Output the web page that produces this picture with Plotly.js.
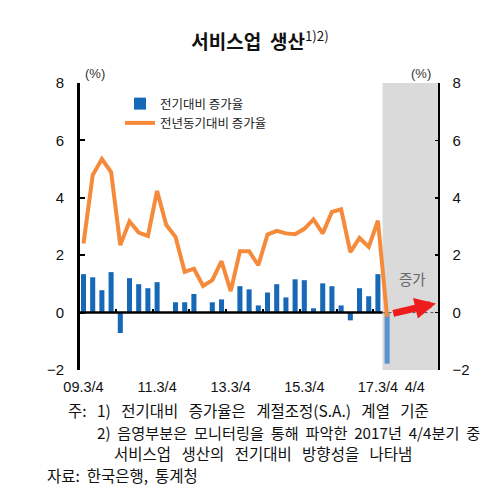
<!DOCTYPE html>
<html>
<head>
<meta charset="utf-8">
<script src="https://cdn.plot.ly/plotly-3.0.1.min.js"></script>
<style>
html,body{margin:0;padding:0;background:#fff;}
#chart{width:496px;height:492px;}
</style>
</head>
<body>
<div id="chart"></div>
<script>
// Quarters from 2009 Q3 to 2017 Q4 (index 0..33)
const quarters = ["09.3/4","09.4/4","10.1/4","10.2/4","10.3/4","10.4/4","11.1/4","11.2/4","11.3/4","11.4/4",
  "12.1/4","12.2/4","12.3/4","12.4/4","13.1/4","13.2/4","13.3/4","13.4/4","14.1/4","14.2/4",
  "14.3/4","14.4/4","15.1/4","15.2/4","15.3/4","15.4/4","16.1/4","16.2/4","16.3/4","16.4/4",
  "17.1/4","17.2/4","17.3/4","17.4/4"];
// 전기대비 증가율 (%)
const qoq = [1.34,1.23,0.78,1.41,-0.71,1.20,0.99,0.85,1.06,0.00,
  0.36,0.36,0.65,0.00,0.36,0.46,0.00,0.92,0.81,0.25,
  0.70,0.99,0.53,1.16,1.13,0.15,1.02,0.92,0.25,-0.27,
  0.85,0.57,1.34,-1.78];
// 전년동기대비 증가율 (%)
const yoy = [2.41,4.79,5.35,4.90,2.35,3.18,2.79,2.67,4.24,3.05,
  2.64,1.42,1.53,0.93,1.13,1.79,0.75,2.14,2.14,1.65,
  2.72,2.85,2.76,2.73,2.92,3.25,2.76,3.51,3.60,2.11,
  2.60,2.29,3.20,-0.15];
const tickLabels = ["09.3/4","11.3/4","13.3/4","15.3/4","17.3/4","4/4"];
const tickPos = [0,8,16,24,32,36];
const yearTicks = [3.5,7.5,11.5,15.5,19.5,23.5,27.5,31.5];

const xIdx = quarters.map((q,i)=>i);
const barColors = qoq.map((v,i)=> i===33 ? '#5b93cc' : '#1769b8');

const KR = '"Noto Sans CJK KR", "Noto Sans", sans-serif';
const NUM = '"Liberation Sans", Arial, sans-serif';

const traces = [
  {type:'bar', x:xIdx, y:qoq, name:'전기대비 증가율', marker:{color:barColors, line:{width:0}},
   width:0.55, hoverinfo:'skip'},
  {type:'scatter', mode:'lines', x:xIdx, y:yoy, name:'전년동기대비 증가율',
   line:{color:'#f58a3b', width:4}, hoverinfo:'skip'},
  {type:'scatter', mode:'markers', x:[0], y:[0], xaxis:'x2', yaxis:'y', showlegend:false,
   marker:{opacity:0}, hoverinfo:'skip'},
  {type:'scatter', mode:'markers', x:[0], y:[0], yaxis:'y2', showlegend:false,
   marker:{opacity:0}, hoverinfo:'skip'}
];

const notes = [
  {t:['주:','1)','전기대비','증가율은','계절조정(S.A.)','계열','기준'], px:66, py:410, sp:3, fs:15.5},
  {t:['2)','음영부분은','모니터링을','통해','파악한','2017년','4/4분기','중'], px:95, py:432, sp:2, fs:15.2},
  {t:['서비스업','생산의','전기대비','방향성을','나타냄'], px:112, py:453, sp:3, fs:15.5},
  {t:['자료:','한국은행,','통계청'], px:45, py:475, sp:2, fs:15.5}
];
const L=80, R=438, T=83, B=370;
const noteAnns = notes.map(n=>({
  text:n.t.join('\u00a0'.repeat(n.sp)), xref:'paper', yref:'paper', x:(n.px-L)/(R-L), y:(B-n.py)/(B-T),
  xanchor:'left', yanchor:'middle', showarrow:false,
  font:{family:KR, size:n.fs, color:'#111'}
}));

const layout = {
  width:496, height:492,
  margin:{l:L, r:496-R, t:T, b:492-B, pad:0},
  paper_bgcolor:'#fff', plot_bgcolor:'#fff',
  showlegend:true,
  legend:{x:(120-L)/(R-L), y:(B-89)/(B-T), xanchor:'left', yanchor:'top',
    bgcolor:'rgba(0,0,0,0)', font:{family:KR, size:12.5, color:'#222'}, tracegroupgap:4},
  title:{text:'<b>서비스업\u00a0\u00a0생산</b><sup>1)2)</sup>', x:260/496, xanchor:'center', y:1-42/492, yanchor:'middle',
    xref:'container', yref:'container', font:{family:KR, size:19, color:'#111'}},
  bargap:0.45,
  xaxis:{range:[-0.38,38.53], showgrid:false, zeroline:false, showline:false,
    tickmode:'array', tickvals:tickPos, ticktext:tickLabels, ticks:'',
    tickfont:{family:NUM, size:14.5, color:'#111'}, ticklabelstandoff:6, fixedrange:true},
  xaxis2:{range:[-0.38,38.53], overlaying:'x', anchor:'free', position:0.2, side:'top',
    showgrid:false, zeroline:false, showline:false, tickmode:'array', tickvals:yearTicks,
    ticks:'outside', ticklen:4, tickwidth:2, tickcolor:'#000', showticklabels:false},
  yaxis:{range:[-2,8], dtick:2, showgrid:false, zeroline:false, showline:true, linewidth:3,
    linecolor:'#000', ticks:'inside', ticklen:5, tickwidth:2, tickcolor:'#000',
    tickfont:{family:NUM, size:15, color:'#111'}, ticklabelstandoff:10,
    tickformat:'d'},
  yaxis2:{range:[-2,8], dtick:2, overlaying:'y', side:'right', showgrid:false, zeroline:false,
    showline:true, linewidth:1.5, linecolor:'#000', ticks:'inside', ticklen:3, tickwidth:1.5,
    tickcolor:'#000', tickfont:{family:NUM, size:15, color:'#111'}, ticklabelstandoff:10},
  shapes:[
    {type:'rect', xref:'x', yref:'paper', x0:32.5, x1:38.53, y0:0, y1:1,
     fillcolor:'#dadada', line:{width:0}, layer:'below'},
    {type:'line', xref:'x', yref:'y', x0:-0.38, x1:32.5, y0:0, y1:0,
     line:{color:'#000', width:2.5}, layer:'above'},
    {type:'line', xref:'x', yref:'y', x0:32.5, x1:38.53, y0:0, y1:0,
     line:{color:'#555', width:1, dash:'dot'}, layer:'below'}
  ],
  annotations:[
    {text:'(%)', xref:'paper', yref:'paper', x:(83-L)/(R-L), y:(B-73)/(B-T), xanchor:'left', yanchor:'middle',
     showarrow:false, font:{family:NUM, size:13, color:'#333'}},
    {text:'(%)', xref:'paper', yref:'paper', x:(433-L)/(R-L), y:(B-73)/(B-T), xanchor:'right', yanchor:'middle',
     showarrow:false, font:{family:NUM, size:13, color:'#333'}},
    {text:'증가', xref:'x', yref:'y', x:35.8, y:1.2, showarrow:false,
     font:{family:KR, size:14.5, color:'#666'}},
    {text:'', xref:'x', yref:'y', x:38.3, y:0.32, ax:33.5, ay:-0.04, axref:'x', ayref:'y',
     showarrow:true, arrowhead:2, arrowsize:0.6, arrowwidth:7, arrowcolor:'#ee1c1c'}
  ].concat(noteAnns)
};

Plotly.newPlot('chart', traces, layout, {staticPlot:true, displayModeBar:false});
</script>
</body>
</html>
